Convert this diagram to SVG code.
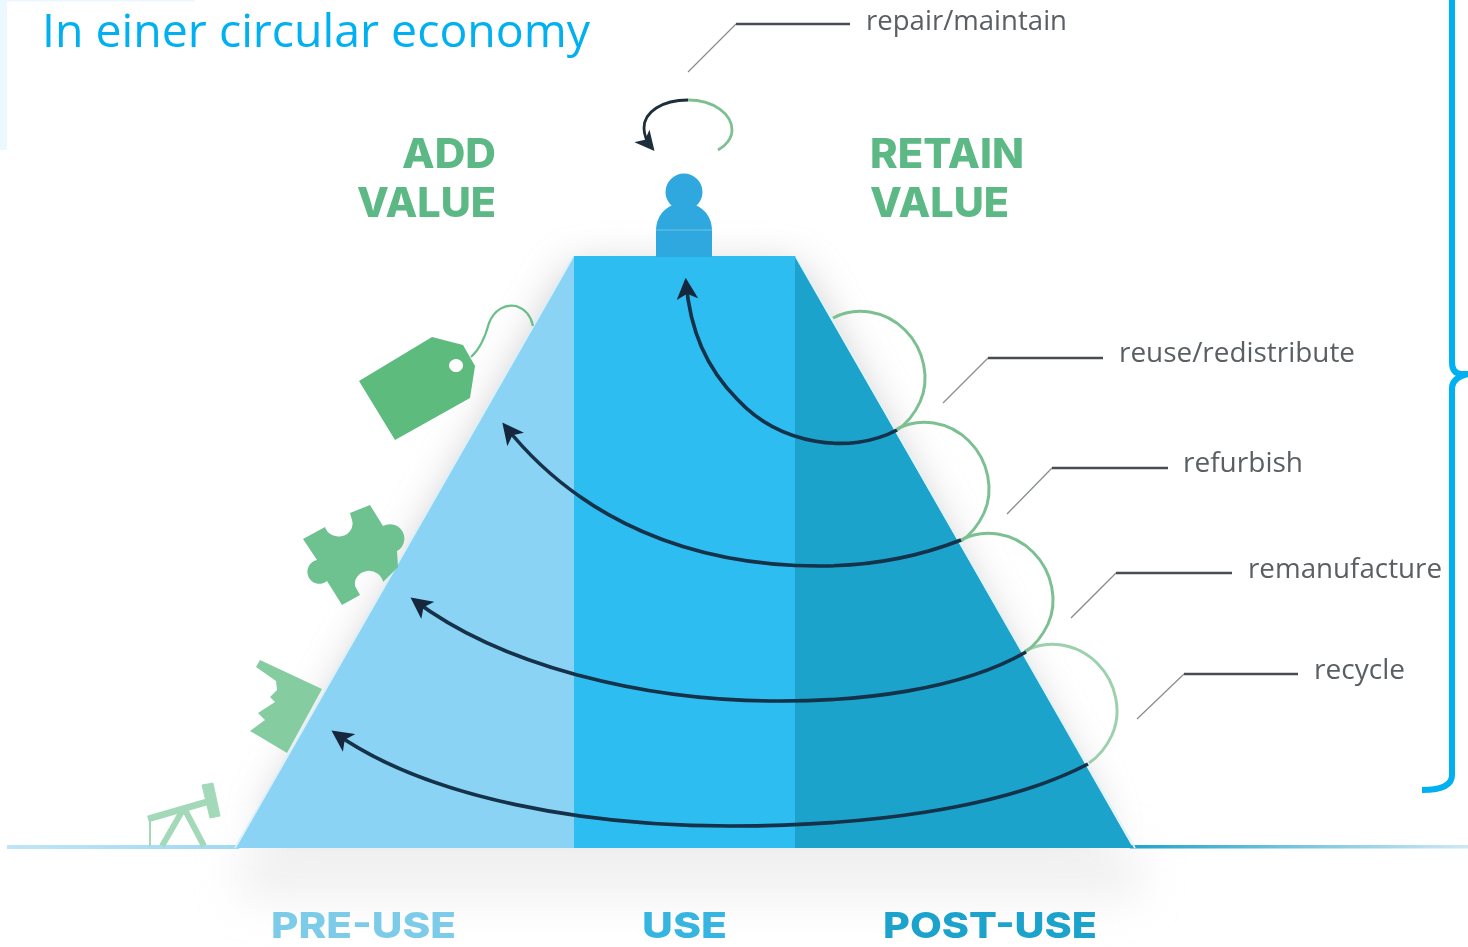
<svg xmlns="http://www.w3.org/2000/svg" xmlns:xlink="http://www.w3.org/1999/xlink" width="1468" height="947" viewBox="0 0 1468 947">
<style>
.head{font-family:Inter,"Liberation Sans",sans-serif;font-weight:800;fill:#5cb884;font-size:41px}
.lab{font-family:"Open Sans","Liberation Sans",sans-serif;font-size:28px;fill:#5a5f63}
.ax{font-family:Inter,"Liberation Sans",sans-serif;font-weight:800;font-size:36px}
.lead{fill:none;stroke:#8a8e90;stroke-width:1.3}
.leadh{fill:none;stroke:#4a4e52;stroke-width:2.6}
.gr{fill:none;stroke:#7cc092;stroke-width:3}
.dk{fill:none;stroke:#14304a;stroke-width:3.6}
</style>
<defs>
<filter id="b" x="-20%" y="-20%" width="140%" height="140%"><feGaussianBlur stdDeviation="0.7"/></filter>
<filter id="sh" filterUnits="userSpaceOnUse" x="0" y="100" width="1468" height="847"><feGaussianBlur stdDeviation="22"/></filter>
<marker id="ah" viewBox="0 0 10 10" refX="8" refY="5" markerWidth="6" markerHeight="6" markerUnits="strokeWidth" orient="auto"><path d="M0,0L10,5L0,10L2.5,5z" fill="#14283c"/></marker>
<marker id="ah2" viewBox="0 0 10 10" refX="8" refY="5" markerWidth="7" markerHeight="7" markerUnits="strokeWidth" orient="auto"><path d="M0,0L10,5L0,10L2.5,5z" fill="#1f2d3a"/></marker>
<linearGradient id="hl" x1="0" x2="1" y1="0" y2="0"><stop offset="0" stop-color="#bfe5f6"/><stop offset="1" stop-color="#9fd9f3"/></linearGradient>
<linearGradient id="hr" x1="0" x2="1" y1="0" y2="0"><stop offset="0" stop-color="#1ea3cb"/><stop offset="1" stop-color="#cfe8f2"/></linearGradient>
<path id="loop" class="gr" d="M833,318C855,306 885,310 905,330C925,350 930,380 920,402C914,415 906,424 897,430"/>
</defs>
<g id="title-bg" fill="#ecf8ff"><rect x="0" y="0" width="7" height="150"/><rect x="7" y="0" width="188" height="1.5"/></g>
<g id="shadow"><polygon points="574,270 795,270 1105,830 262,830" fill="#808080" opacity=".5" filter="url(#sh)"/></g>
<rect id="floor" x="240" y="848" width="900" height="50" fill="#e0e0e0" opacity=".5" filter="url(#sh)"/>
<g id="ground" filter="url(#b)"><rect x="7" y="845" width="232" height="4" fill="url(#hl)"/><rect x="1130" y="845" width="338" height="3.5" fill="url(#hr)"/></g>
<g id="pyramid" filter="url(#b)">
<polygon points="574,256 574,848 236,848" fill="#8ad3f4"/>
<rect x="574" y="256" width="221" height="592" fill="#2fbdf0"/>
<polygon points="795,256 1133,848 795,848" fill="#1ea3cb"/>
<path d="M796,257L1135,848" stroke="#dff3fb" stroke-width="1.6" fill="none"/>
<path d="M573,257L235,848" stroke="#d8f0fb" stroke-width="1.6" fill="none"/>
</g>
<g id="user" filter="url(#b)"><circle cx="684" cy="192" r="18.5" fill="#2ea8de"/><path d="M656,257V231C656,214 668,203 684,203C700,203 712,214 712,231V257z" fill="#2ea8de"/><line x1="656" y1="230" x2="712" y2="230" stroke="#6cc5ea" stroke-width="1"/></g>
<g id="icons" filter="url(#b)">
<path id="tag" d="M359,381L432,337L463,345L475,366L470,398L395,440z M456,359a7,6.5 0 1 0 .1,0z" fill="#5cbb7d" fill-rule="evenodd"/>
<path d="M471,357C480,349 485,338 489,323C494,310 505,304 516,306C525,309 531,316 533,326" fill="none" stroke="#6bbf89" stroke-width="2.2"/>
<path id="puzzle" d="M303,539L325,527A14,13 0 0 0 352,520L350,513L370,505L383,526A12,12 0 1 1 397,551L398,567L383,582A14,13 0 0 0 355,586L360,595L342,605L327,581A12,12 0 1 1 317,560z" fill="#6dc290"/>
<path id="factory" d="M260,660L322,689L287,753L250,731L265,720L258,713L275,702L270,697L277,690L276,681L256,667z" fill="#85cda0"/>
<g id="pump" fill="none" stroke="#a3d9b8"><path d="M148,819L210,801" stroke-width="7"/><path d="M202,785L213,783L220,816L210,818z" fill="#a3d9b8" stroke-width="1"/><path d="M184,808L162,846M184,808L204,846" stroke-width="6"/><path d="M150,819V846" stroke-width="2"/></g>
</g>
<g id="connectors" filter="url(#b)">
<use href="#loop" xlink:href="#loop"/>
<use href="#loop" xlink:href="#loop" transform="translate(64,111)"/>
<use href="#loop" xlink:href="#loop" transform="translate(128,222)"/>
<use href="#loop" xlink:href="#loop" transform="translate(192,333)" opacity=".75"/>
<path class="dk" d="M897,430C850,455 780,445 738,400C706,368 690,330 686,282" marker-end="url(#ah)"/>
<path class="dk" d="M961,540C910,560 860,566 820,566C690,566 580,520 505,426" marker-end="url(#ah)"/>
<path class="dk" d="M1026,652C960,690 860,702 770,701C640,700 500,665 414,600" marker-end="url(#ah)"/>
<path class="dk" d="M1088,764C1000,810 860,826 730,826C590,826 430,800 335,733" marker-end="url(#ah)"/>
<path class="gr" d="M688,100C715,100 732,115 732,130C732,138 726,146 718,150" style="stroke-width:2.8"/>
<path d="M688,100C662,100 644,112 644,128C644,136 647,142 652,148" fill="none" stroke="#1f2d3a" stroke-width="2.8" marker-end="url(#ah2)"/>
<path class="lead" d="M688,72L736,24"/><path class="leadh" d="M736,24H850"/>
<path class="lead" d="M943,403L988,358"/><path class="leadh" d="M988,358H1103"/>
<path class="lead" d="M1007,514L1052,468"/><path class="leadh" d="M1052,468H1168"/>
<path class="lead" d="M1071,618L1116,573"/><path class="leadh" d="M1116,573H1232"/>
<path class="lead" d="M1137,719L1184,674"/><path class="leadh" d="M1184,674H1298"/>
</g>
<g id="brace"><path d="M1452,0V362Q1452,374 1462,374H1468Q1452,378 1452,388V775Q1452,790 1422,790" fill="none" stroke="#00b0f0" stroke-width="6"/></g>
<g id="labels" filter="url(#b)">
<text class="head" x="402" y="168" textLength="94" lengthAdjust="spacingAndGlyphs">ADD</text>
<text class="head" x="357" y="217" textLength="139" lengthAdjust="spacingAndGlyphs">VALUE</text>
<text class="head" x="870" y="168" textLength="154" lengthAdjust="spacingAndGlyphs">RETAIN</text>
<text class="head" x="870" y="217" textLength="139" lengthAdjust="spacingAndGlyphs">VALUE</text>
<text class="lab" x="866" y="30" textLength="201" lengthAdjust="spacingAndGlyphs">repair/maintain</text>
<text class="lab" x="1119" y="362" textLength="236" lengthAdjust="spacingAndGlyphs">reuse/redistribute</text>
<text class="lab" x="1183" y="472" textLength="120" lengthAdjust="spacingAndGlyphs">refurbish</text>
<text class="lab" x="1248" y="578" textLength="194" lengthAdjust="spacingAndGlyphs">remanufacture</text>
<text class="lab" x="1314" y="679" textLength="91" lengthAdjust="spacingAndGlyphs">recycle</text>
<text class="ax" x="271" y="938" fill="#7ccbe8" textLength="185" lengthAdjust="spacingAndGlyphs">PRE-USE</text>
<text class="ax" x="642" y="938" fill="#35b5e0" textLength="85" lengthAdjust="spacingAndGlyphs">USE</text>
<text class="ax" x="883" y="938" fill="#1ea3cb" textLength="214" lengthAdjust="spacingAndGlyphs">POST-USE</text>
</g>
<text id="title" x="42" y="47" font-family="'Open Sans','Liberation Sans',sans-serif" font-size="46" fill="#00b0f0" textLength="548" lengthAdjust="spacingAndGlyphs">In einer circular economy</text>
</svg>
